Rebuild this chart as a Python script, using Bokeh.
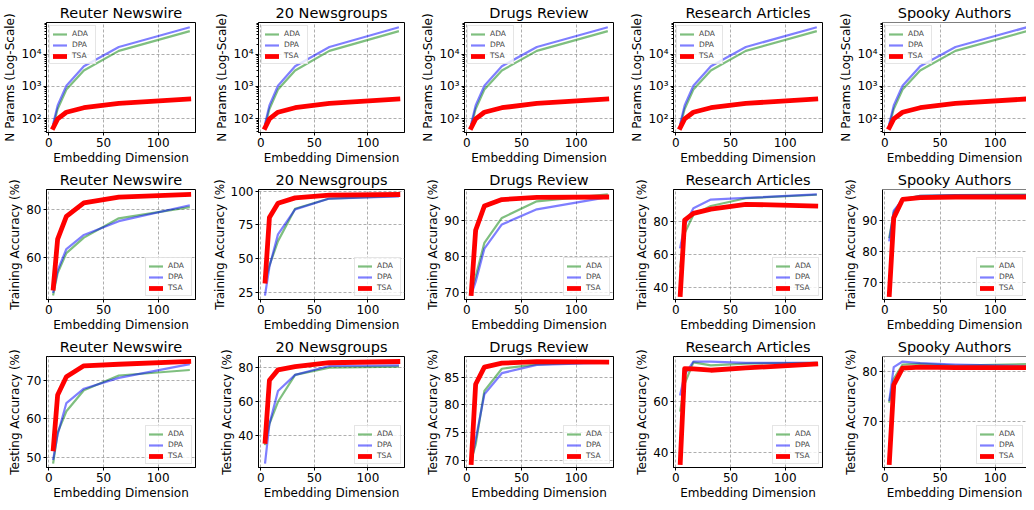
from bokeh.plotting import figure
from bokeh.layouts import gridplot
from bokeh.models import Range1d, FixedTicker, CustomJSTickFormatter, Span
from bokeh.embed import file_html
from bokeh.resources import INLINE
import math

# ---------------- data ----------------
dims = [4, 8, 16, 32, 64, 128]
datasets = ["Reuter Newswire", "20 Newsgroups", "Drugs Review", "Research Articles", "Spooky Authors"]
methods = ["ADA", "DPA", "TSA"]

params_ada = [62, 200, 800, 3100, 12500, 50000]
params_dpa = [72, 260, 1050, 4200, 16500, 66000]
params_tsa = [54, 100, 160, 220, 300, 410]

reuter_train_ada = [44.5, 53.5, 61.9, 68.4, 76.5, 81.1]
reuter_train_dpa = [45.6, 54.6, 63.6, 69.5, 75.3, 81.9]
reuter_train_tsa = [47.2, 67.8, 77.3, 83.0, 85.4, 86.5]
news_train_ada = [33.0, 45.0, 63.0, 87.0, 94.5, 96.5]
news_train_dpa = [23.5, 44.0, 68.0, 86.5, 94.5, 96.0]
news_train_tsa = [33.4, 80.5, 91.0, 95.0, 97.0, 97.5]
drugs_train_ada = [70.3, 74.5, 83.8, 90.7, 95.3, 97.2]
drugs_train_dpa = [69.5, 73.0, 82.2, 88.9, 93.1, 96.4]
drugs_train_tsa = [69.8, 87.3, 94.0, 95.8, 96.4, 96.5]
research_train_ada = [52.8, 73.0, 84.3, 89.7, 94.4, 96.5]
research_train_dpa = [64.5, 78.0, 88.3, 93.6, 94.6, 96.7]
research_train_tsa = [35.7, 81.0, 85.2, 87.8, 90.7, 89.7]
spooky_train_ada = [84.5, 92.5, 96.7, 97.8, 98.0, 98.2]
spooky_train_dpa = [83.5, 93.0, 96.5, 97.8, 98.0, 98.0]
spooky_train_tsa = [66.1, 90.7, 96.6, 97.2, 97.4, 97.4]

reuter_test_ada = [48.8, 56.5, 62.0, 67.4, 71.2, 72.6]
reuter_test_dpa = [49.7, 56.0, 64.1, 67.8, 70.6, 74.1]
reuter_test_tsa = [52.3, 66.2, 70.9, 73.7, 74.1, 74.8]
news_test_ada = [35.2, 47.0, 60.0, 75.8, 80.0, 80.6]
news_test_dpa = [24.4, 47.0, 66.3, 75.8, 81.0, 81.3]
news_test_tsa = [36.8, 72.6, 78.7, 80.6, 82.9, 83.6]
drugs_test_ada = [70.0, 72.8, 82.5, 86.5, 87.3, 87.7]
drugs_test_dpa = [69.8, 73.7, 81.9, 85.7, 87.2, 87.6]
drugs_test_tsa = [69.6, 83.7, 86.8, 87.5, 87.8, 87.7]
research_test_ada = [56.5, 67.0, 75.4, 74.2, 74.9, 75.2]
research_test_dpa = [62.8, 70.6, 75.7, 75.7, 75.2, 75.2]
research_test_tsa = [36.2, 72.9, 72.8, 72.3, 73.2, 74.7]
spooky_test_ada = [74.0, 78.5, 81.3, 81.5, 81.1, 81.4]
spooky_test_dpa = [74.3, 80.8, 81.9, 81.6, 81.3, 81.0]
spooky_test_tsa = [62.0, 77.3, 80.6, 80.8, 80.7, 80.7]

x_ticks = [0, 50, 100]
params_ticks = [100, 1000, 10000]
train_ticks = [[60, 80], [25, 50, 75, 100], [70, 80, 90], [40, 60, 80], [70, 80, 90, 100]]
test_ticks = [[50, 60, 70], [40, 60, 80], [70, 75, 80, 85], [40, 60], [70, 80]]

row_labels = ["N Params (Log-Scale)", "Training Accuracy (%)", "Testing Accuracy (%)"]
x_label = "Embedding Dimension"

train_series = [
    [reuter_train_ada, reuter_train_dpa, reuter_train_tsa],
    [news_train_ada, news_train_dpa, news_train_tsa],
    [drugs_train_ada, drugs_train_dpa, drugs_train_tsa],
    [research_train_ada, research_train_dpa, research_train_tsa],
    [spooky_train_ada, spooky_train_dpa, spooky_train_tsa],
]
test_series = [
    [reuter_test_ada, reuter_test_dpa, reuter_test_tsa],
    [news_test_ada, news_test_dpa, news_test_tsa],
    [drugs_test_ada, drugs_test_dpa, drugs_test_tsa],
    [research_test_ada, research_test_dpa, research_test_tsa],
    [spooky_test_ada, spooky_test_dpa, spooky_test_tsa],
]
params_series = [params_ada, params_dpa, params_tsa]

# ---------------- style ----------------
FONT = "DejaVu Sans"
styles = [
    dict(line_color="#008000", line_alpha=0.5, line_width=2.2),
    dict(line_color="#0000ff", line_alpha=0.5, line_width=2.2),
    dict(line_color="#ff0000", line_alpha=1.0, line_width=4.8),
]
col_widths = [209, 209, 209, 209, 190]
row_heights = [167, 167, 168]

sup_js = r"""
const e = Math.round(Math.log10(tick));
const m = {'0':'\u2070','1':'\u00b9','2':'\u00b2','3':'\u00b3','4':'\u2074','5':'\u2075','6':'\u2076','7':'\u2077','8':'\u2078','9':'\u2079','-':'\u207b'};
return '10' + String(e).split('').map(c => m[c]).join('');
"""


def pad(lo, hi, frac=0.05):
    m = (hi - lo) * frac
    return lo - m, hi + m


def make_fig(r, c, series, yticks):
    log = (r == 0)
    allv = [v for s in series for v in s]
    if log:
        lo, hi = pad(math.log10(min(allv)), math.log10(max(allv)))
        yr = Range1d(10 ** lo, 10 ** hi)
    else:
        lo, hi = pad(min(allv), max(allv))
        yr = Range1d(lo, hi)
    xlo, xhi = pad(min(dims), max(dims))
    if c == 4:
        xhi = 128.5
    p = figure(width=col_widths[c], height=row_heights[r],
               x_range=Range1d(xlo, xhi), y_range=yr,
               y_axis_type="log" if log else "linear",
               output_backend="svg", toolbar_location=None,
               title=datasets[c],
               min_border_left=42, min_border_right=(0 if c == 4 else 14),
               min_border_top=0, min_border_bottom=0)
    p.title.align = "center"
    p.title.text_font = FONT
    p.title.text_font_style = "normal"
    p.title.text_font_size = "14.5px"
    p.title.text_color = "black"
    p.title.standoff = 4

    for s, m, st in zip(series, methods, styles):
        p.line(dims, s, legend_label=m, line_join="round", line_cap="square", **st)

    p.xaxis.ticker = FixedTicker(ticks=x_ticks)
    if log:
        minors = [k * 10 ** e for e in range(1, 6) for k in range(2, 10)]
        p.yaxis.ticker = FixedTicker(ticks=params_ticks, minor_ticks=minors)
        p.yaxis.formatter = CustomJSTickFormatter(code=sup_js)
        p.yaxis.minor_tick_out = 2
        p.yaxis.minor_tick_in = 0
        p.yaxis.minor_tick_line_color = "black"
    else:
        p.yaxis.ticker = FixedTicker(ticks=yticks)
        p.yaxis.minor_tick_line_color = None
    p.xaxis.minor_tick_line_color = None

    for ax in (p.xaxis[0], p.yaxis[0]):
        ax.major_label_text_font = FONT
        ax.major_label_text_font_size = "12px"
        ax.major_label_text_color = "black"
        ax.axis_label_text_font = FONT
        ax.axis_label_text_font_size = "12px"
        ax.axis_label_text_font_style = "normal"
        ax.axis_label_text_color = "black"
        ax.major_tick_out = 3
        ax.major_tick_in = 0
        ax.major_label_standoff = 2
        ax.axis_label_standoff = 1
        ax.axis_line_color = "black"
        ax.major_tick_line_color = "black"
    p.xaxis.axis_label = x_label
    p.yaxis.axis_label = row_labels[r]

    p.grid.grid_line_color = "#999999"
    p.grid.grid_line_dash = "3 2"
    p.grid.grid_line_width = 0.8
    if c == 4:
        p.outline_line_color = None
        p.add_layout(Span(location=yr.end, dimension="width", line_color="black", line_width=1))
    else:
        p.outline_line_color = "black"
        p.outline_line_alpha = 1.0

    lg = p.legend[0]
    lg.location = "top_left" if r == 0 else "bottom_right"
    lg.label_text_font = FONT
    lg.label_text_font_size = "7.5px"
    lg.glyph_width = 14
    lg.glyph_height = 8
    lg.label_height = 8
    lg.label_standoff = 5
    lg.spacing = 2
    lg.padding = 3
    lg.margin = 3
    lg.border_line_color = "#cccccc"
    lg.background_fill_alpha = 0.8
    return p


rows = []
for r in range(3):
    rr = []
    for c in range(5):
        if r == 0:
            rr.append(make_fig(r, c, params_series, None))
        elif r == 1:
            rr.append(make_fig(r, c, train_series[c], train_ticks[c]))
        else:
            rr.append(make_fig(r, c, test_series[c], test_ticks[c]))
    rows.append(rr)

grid = gridplot(rows, toolbar_location=None)
open("out.html", "w").write(file_html(grid, INLINE))
